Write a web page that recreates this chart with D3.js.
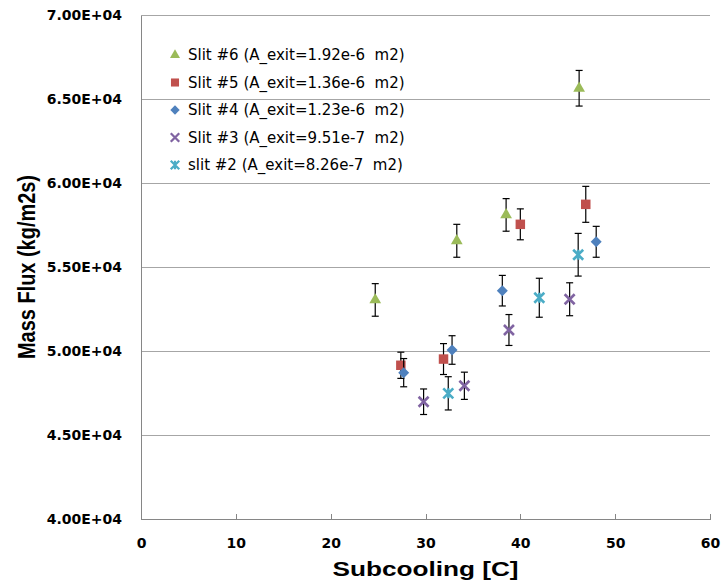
<!DOCTYPE html>
<html>
<head>
<meta charset="utf-8">
<script src="https://cdn.jsdelivr.net/npm/d3@7"></script>
<style>
  body { margin: 0; background: #fff; }
  svg { display: block; }
</style>
</head>
<body>
<div id="chart"></div>
<script>
// values
const seriesNames = [
  "Slit #6 (A_exit=1.92e-6  m2)",
  "Slit #5 (A_exit=1.36e-6  m2)",
  "Slit #4 (A_exit=1.23e-6  m2)",
  "Slit #3 (A_exit=9.51e-7  m2)",
  "slit #2 (A_exit=8.26e-7  m2)"
];
const slit6 = [[24.7, 53040, 970], [33.3, 56560, 980], [38.5, 58100, 970], [46.2, 65640, 1060]];
const slit5 = [[27.4, 49150, 780], [31.9, 49520, 920], [40.0, 57540, 920], [46.9, 58730, 1070]];
const slit4 = [[27.7, 48710, 840], [32.8, 50060, 850], [38.1, 53590, 910], [48.0, 56500, 920]];
const slit3 = [[29.8, 46980, 760], [34.1, 47930, 810], [38.8, 51250, 920], [45.2, 53080, 980]];
const slit2 = [[32.4, 47480, 990], [42.0, 53170, 1160], [46.1, 55730, 1270]];
const xTicks = [0, 10, 20, 30, 40, 50, 60];
const yTicks = [40000, 45000, 50000, 55000, 60000, 65000, 70000];

const allSeries = [slit6, slit5, slit4, slit3, slit2];
const colors = ["#9BBB59", "#C0504D", "#4F81BD", "#8064A2", "#4BACC6"];
const shapes = ["triangle", "square", "diamond", "x", "star"];

const w = 722, h = 585;
const margin = {left: 141, right: 12, top: 15, bottom: 66};

const svg = d3.select("#chart").append("svg")
  .attr("width", w)
  .attr("height", h);

const x = d3.scaleLinear().domain([0, 60]).range([margin.left, w - margin.right]);
const y = d3.scaleLinear().domain([40000, 70000]).range([h - margin.bottom, margin.top]);

// gridlines
svg.append("g")
  .selectAll("line")
  .data(yTicks.slice(1))
  .enter()
  .append("line")
  .attr("x1", x(0)).attr("x2", x(60))
  .attr("y1", d => y(d)).attr("y2", d => y(d))
  .attr("stroke", "#a6a6a6")
  .attr("stroke-width", 1)
  .attr("shape-rendering", "crispEdges");

// axes
const xAxis = svg.append("g")
  .attr("transform", `translate(0, ${y(40000)})`)
  .call(d3.axisBottom(x).tickValues(xTicks).tickSizeInner(-5).tickSizeOuter(0).tickPadding(19));
const yAxis = svg.append("g")
  .attr("transform", `translate(${x(0)}, 0)`)
  .call(d3.axisLeft(y).tickValues(yTicks).tickSize(0).tickPadding(19)
    .tickFormat(d => (d / 10000).toFixed(2) + "E+04"));

[xAxis, yAxis].forEach(g => {
  g.select(".domain").attr("stroke", "#868686").attr("shape-rendering", "crispEdges");
  g.selectAll(".tick line").attr("stroke", "#868686").attr("shape-rendering", "crispEdges");
  g.selectAll("text")
    .attr("fill", "#000")
    .style("font-family", "'DejaVu Sans', Verdana, sans-serif")
    .style("font-weight", "bold")
    .style("font-size", "14px");
});

// axis titles
svg.append("text")
  .attr("x", (x(0) + x(60)) / 2)
  .attr("y", 576)
  .attr("text-anchor", "middle")
  .attr("textLength", 186)
  .attr("lengthAdjust", "spacingAndGlyphs")
  .style("font-family", "'Liberation Sans', Arial, sans-serif")
  .style("font-weight", "bold")
  .style("font-size", "21px")
  .text("Subcooling [C]");

svg.append("text")
  .attr("transform", `translate(35, ${(y(40000) + y(70000)) / 2}) rotate(-90)`)
  .attr("text-anchor", "middle")
  .attr("textLength", 184)
  .attr("lengthAdjust", "spacingAndGlyphs")
  .style("font-family", "'Liberation Sans', Arial, sans-serif")
  .style("font-weight", "bold")
  .style("font-size", "23px")
  .text("Mass Flux (kg/m2s)");

// marker drawing
const drawMarker = (g, shape, color) => {
  if (shape === "triangle") {
    g.append("path").attr("d", d3.symbol(d3.symbolTriangle, 60)()).attr("fill", color);
  } else if (shape === "square") {
    g.append("path").attr("d", d3.symbol(d3.symbolSquare, 90)()).attr("fill", color);
  } else if (shape === "diamond") {
    g.append("path").attr("d", "M0,-5.5L5.5,0L0,5.5L-5.5,0Z").attr("fill", color);
  } else if (shape === "x") {
    g.append("path").attr("d", "M-5,-5L5,5M-5,5L5,-5")
      .attr("stroke", color).attr("stroke-width", 2.6).attr("fill", "none");
  } else {
    g.append("path").attr("d", "M-5,-5L5,5M-5,5L5,-5M0,-5L0,5")
      .attr("stroke", color).attr("stroke-width", 2.6).attr("fill", "none");
  }
};

// error bars + points
allSeries.forEach((series, i) => {
  const grp = svg.append("g");
  const bars = grp.selectAll(".err")
    .data(series)
    .enter()
    .append("g")
    .attr("class", "err")
    .attr("stroke", "#000")
    .attr("stroke-width", 1.2);
  bars.append("line")
    .attr("x1", d => x(d[0])).attr("x2", d => x(d[0]))
    .attr("y1", d => y(d[1] - d[2])).attr("y2", d => y(d[1] + d[2]));
  bars.append("line")
    .attr("x1", d => x(d[0]) - 3.5).attr("x2", d => x(d[0]) + 3.5)
    .attr("y1", d => y(d[1] + d[2])).attr("y2", d => y(d[1] + d[2]));
  bars.append("line")
    .attr("x1", d => x(d[0]) - 3.5).attr("x2", d => x(d[0]) + 3.5)
    .attr("y1", d => y(d[1] - d[2])).attr("y2", d => y(d[1] - d[2]));

  grp.selectAll(".pt")
    .data(series)
    .enter()
    .append("g")
    .attr("class", "pt")
    .attr("transform", d => `translate(${x(d[0])}, ${y(d[1])})`)
    .each(function () { drawMarker(d3.select(this), shapes[i], colors[i]); });
});

// legend
const legend = svg.append("g").attr("transform", "translate(175, 55)");
seriesNames.forEach((name, i) => {
  const row = legend.append("g").attr("transform", `translate(0, ${i * 27.5})`);
  const m = row.append("g").attr("transform", "scale(0.85)");
  drawMarker(m, shapes[i], colors[i]);
  row.append("text")
    .attr("x", 13)
    .attr("y", 0)
    .attr("dy", "0.35em")
    .style("font-family", "'DejaVu Sans', Verdana, sans-serif")
    .style("font-size", "15px")
    .style("white-space", "pre")
    .attr("xml:space", "preserve")
    .text(name);
});
</script>
</body>
</html>
